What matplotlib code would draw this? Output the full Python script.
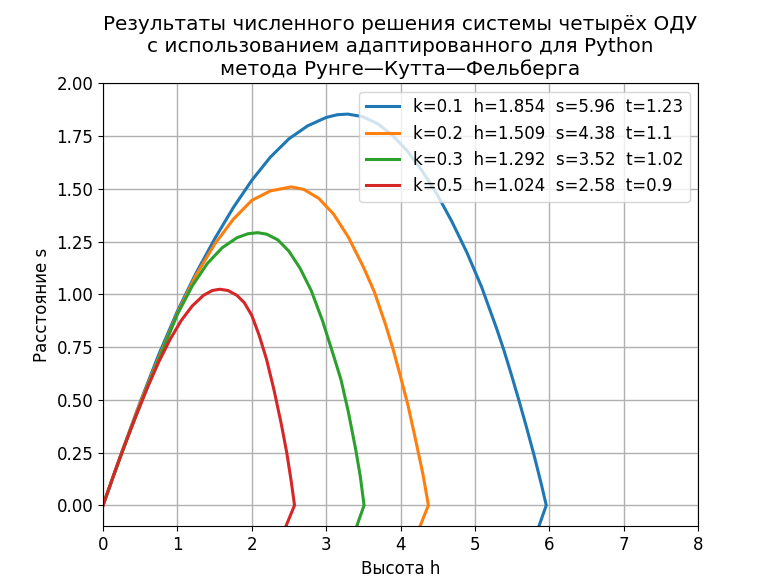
import matplotlib
matplotlib.use("Agg")
import matplotlib.pyplot as plt

# k = 0.1
x1 = [0, 0.25, 0.5, 0.75, 1.0, 1.25, 1.5, 1.75, 2.0, 2.25, 2.5, 2.75, 3.0, 3.15, 3.29,
      3.49, 3.69, 3.89, 4.09, 4.29, 4.49, 4.69, 4.89, 5.09, 5.29, 5.39, 5.49, 5.59, 5.69,
      5.79, 5.89, 5.96, 5.81]
y1 = [0, 0.25, 0.49, 0.715, 0.92, 1.1, 1.262, 1.41, 1.54, 1.65, 1.737, 1.798, 1.838, 1.851, 1.854,
      1.842, 1.809, 1.754, 1.68, 1.585, 1.475, 1.345, 1.2, 1.035, 0.84, 0.735, 0.62, 0.5, 0.375,
      0.245, 0.105, 0.0, -0.15]
# k = 0.2
x2 = [0, 0.25, 0.5, 0.75, 1.0, 1.25, 1.5, 1.75, 2.0, 2.25, 2.53, 2.7, 2.9, 3.1, 3.3,
      3.5, 3.65, 3.8, 3.9, 4.0, 4.1, 4.2, 4.3, 4.375, 4.205]
y2 = [0, 0.248, 0.485, 0.70, 0.91, 1.09, 1.237, 1.355, 1.445, 1.49, 1.509, 1.497, 1.455, 1.38, 1.27,
      1.13, 1.01, 0.855, 0.74, 0.61, 0.475, 0.315, 0.15, 0.0, -0.15]
# k = 0.3
x3 = [0, 0.2, 0.4, 0.6, 0.8, 1.0, 1.2, 1.4, 1.6, 1.8, 1.95, 2.08, 2.2, 2.35, 2.5, 2.65,
      2.8, 2.95, 3.1, 3.2, 3.3, 3.4, 3.46, 3.51, 3.36]
y3 = [0, 0.198, 0.385, 0.565, 0.735, 0.905, 1.04, 1.145, 1.22, 1.268, 1.287, 1.292, 1.285, 1.258,
      1.204, 1.123, 1.017, 0.876, 0.709, 0.595, 0.44, 0.26, 0.135, 0.0, -0.15]
# k = 0.5
x4 = [0, 0.15, 0.3, 0.45, 0.6, 0.75, 0.9, 1.05, 1.2, 1.35, 1.47, 1.57, 1.68, 1.8, 1.9, 2.0,
      2.1, 2.2, 2.3, 2.4, 2.47, 2.53, 2.575, 2.40]
y4 = [0, 0.15, 0.293, 0.43, 0.56, 0.68, 0.785, 0.875, 0.945, 0.995, 1.018, 1.024, 1.018, 0.995,
      0.96, 0.9, 0.805, 0.69, 0.545, 0.38, 0.25, 0.115, 0.0, -0.15]

labels = ["k=0.1  h=1.854  s=5.96  t=1.23",
          "k=0.2  h=1.509  s=4.38  t=1.1",
          "k=0.3  h=1.292  s=3.52  t=1.02",
          "k=0.5  h=1.024  s=2.58  t=0.9"]
colors = ["#1f77b4", "#ff7f0e", "#2ca02c", "#d62728"]
xticks = [0, 1, 2, 3, 4, 5, 6, 7, 8]
yticks = [0.0, 0.25, 0.5, 0.75, 1.0, 1.25, 1.5, 1.75, 2.0]

plt.rcParams['font.family'] = ['DejaVu Sans']
plt.rcParams['font.size'] = 12

fig = plt.figure(figsize=(7.7, 5.84), dpi=100)
ax = fig.add_axes([0.1338, 0.0986, 0.7727, 0.7588])

for xs, ys, lab, c in zip([x1, x2, x3, x4], [y1, y2, y3, y4], labels, colors):
    ax.plot(xs, ys, color=c, lw=2.2, label=lab, solid_joinstyle="round")

ax.set_xlim(0, 8)
ax.set_ylim(-0.1, 2.0)
ax.set_xticks(xticks)
ax.set_yticks(yticks)
ax.set_yticklabels([f"{v:.2f}" for v in yticks])
ax.grid(True, color="#b0b0b0", lw=1.0)
ax.set_xlabel("Высота h")
ax.set_ylabel("Расстояние s")
ax.set_title("Результаты численного решения системы четырёх ОДУ\n"
             "с использованием адаптированного для Python\n"
             "метода Рунге—Кутта—Фельберга", fontsize=14.4)
ax.legend(loc="upper right", fontsize=12)

fig.savefig("out.png", dpi=100)
